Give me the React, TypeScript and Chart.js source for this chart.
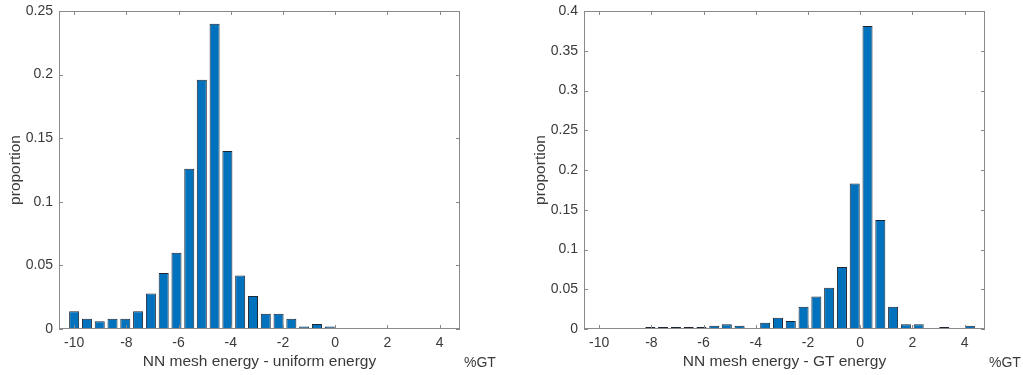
import React, { useEffect, useRef } from "react";
import { Chart, registerables } from "chart.js";

Chart.register(...registerables);

// Shared histogram bin centres (%GT)
const binCenters = [
  -10.0, -9.51, -9.02, -8.53, -8.04, -7.55, -7.06, -6.57, -6.08, -5.59,
  -5.11, -4.62, -4.13, -3.64, -3.15, -2.66, -2.17, -1.68, -1.19, -0.7,
  -0.21, 0.28, 0.77, 1.26, 1.75, 2.24, 2.73, 3.22, 3.71, 4.2,
];

// Left: NN mesh energy - uniform energy
const uniformProportion: (number | null)[] = [
  0.014, 0.008, 0.006, 0.008, 0.008, 0.014, 0.028, 0.044, 0.06, 0.126,
  0.196, 0.24, 0.14, 0.042, 0.026, 0.012, 0.012, 0.008, 0.002, 0.004,
  0.002, null, null, null, null, null, null, null, null, null,
];

// Right: NN mesh energy - GT energy
const gtProportion: (number | null)[] = [
  null, null, null, null, 0.002, 0.002, 0.002, 0.002, 0.002, 0.004,
  0.006, 0.004, null, 0.008, 0.014, 0.01, 0.028, 0.041, 0.052, 0.078,
  0.183, 0.381, 0.137, 0.028, 0.006, 0.006, null, 0.002, null, 0.004,
];

const xTicks = [-10, -8, -6, -4, -2, 0, 2, 4];
const xLimits = [-10.58, 4.78];
const leftYTicks = [0, 0.05, 0.1, 0.15, 0.2, 0.25];
const rightYTicks = [0, 0.05, 0.1, 0.15, 0.2, 0.25, 0.3, 0.35, 0.4];

const leftXTitle = "NN mesh energy - uniform energy";
const rightXTitle = "NN mesh energy - GT energy";
const yTitle = "proportion";
const unitLabel = "%GT";

const FONT = "'Liberation Sans', Arial, Helvetica, sans-serif";
const TEXT = "#3a3a3a";
const AXIS = "#8a8a8a";
const BAR = "#0072BD";

type PanelProps = {
  values: (number | null)[];
  yTicks: number[];
  xTitle: string;
  canvasLeft: number;
  canvasWidth: number;
  area: { left: number; right: number; top: number; bottom: number };
  yTitlePad: number;
};

const H = 375;

function Panel({ values, yTicks, xTitle, canvasLeft, canvasWidth, area, yTitlePad }: PanelProps) {
  const ref = useRef<HTMLCanvasElement | null>(null);
  useEffect(() => {
    if (!ref.current) return;
    const data = binCenters
      .map((x, i) => ({ x, y: values[i] }))
      .filter((p) => p.y !== null) as { x: number; y: number }[];

    const frame = {
      id: "matlabFrame",
      afterDraw(chart: any) {
        const { ctx, chartArea: ca, scales } = chart;
        ctx.save();
        ctx.strokeStyle = AXIS;
        ctx.lineWidth = 1;
        ctx.strokeRect(Math.round(ca.left) + 0.5, Math.round(ca.top) + 0.5,
          Math.round(ca.right - ca.left) - 1, Math.round(ca.bottom - ca.top) - 1);
        const tl = 4;
        ctx.beginPath();
        for (const v of xTicks) {
          const px = Math.round(scales.x.getPixelForValue(v)) + 0.5;
          ctx.moveTo(px, ca.bottom);
          ctx.lineTo(px, ca.bottom - tl);
          ctx.moveTo(px, ca.top);
          ctx.lineTo(px, ca.top + tl);
        }
        for (const v of yTicks) {
          const py = Math.round(scales.y.getPixelForValue(v)) + 0.5;
          ctx.moveTo(ca.left, py);
          ctx.lineTo(ca.left + tl, py);
          ctx.moveTo(ca.right, py);
          ctx.lineTo(ca.right - tl, py);
        }
        ctx.stroke();
        ctx.fillStyle = TEXT;
        ctx.font = `14px ${FONT}`;
        ctx.textBaseline = "alphabetic";
        ctx.textAlign = "left";
        ctx.fillText(unitLabel, ca.right + 4, 367);
        ctx.restore();
      },
    };

    const chart = new Chart(ref.current, {
      type: "bar",
      data: {
        datasets: [
          {
            data,
            backgroundColor: BAR,
            borderColor: "#1c2530",
            borderWidth: 1,
            borderSkipped: false,
            minBarLength: 2,
            categoryPercentage: 1,
            barPercentage: 0.8,
          },
        ],
      },
      options: {
        animation: false,
        responsive: false,
        maintainAspectRatio: false,
        devicePixelRatio: 1,
        layout: {
          padding: { left: 0, top: area.top, right: canvasWidth - area.right, bottom: 0 },
        },
        plugins: { legend: { display: false }, tooltip: { enabled: false } },
        scales: {
          x: {
            type: "linear",
            offset: false,
            min: xLimits[0],
            max: xLimits[1],
            grid: { display: false, drawTicks: false },
            border: { display: false },
            afterBuildTicks: (s: any) => {
              s.ticks = xTicks.map((v) => ({ value: v }));
            },
            afterFit: (s: any) => {
              s.height = H - area.bottom;
              s.paddingLeft = 0;
              s.paddingRight = 0;
            },
            ticks: {
              padding: 6,
              color: TEXT,
              font: { family: FONT, size: 14 },
              callback: (v: any) => String(v),
              maxRotation: 0,
              autoSkip: false,
            },
            title: {
              display: true,
              text: xTitle,
              color: TEXT,
              font: { family: FONT, size: 15.5 },
              padding: { top: 0, bottom: 4 },
            },
          },
          y: {
            type: "linear",
            min: yTicks[0],
            max: yTicks[yTicks.length - 1],
            grid: { display: false, drawTicks: false },
            border: { display: false },
            afterBuildTicks: (s: any) => {
              s.ticks = yTicks.map((v) => ({ value: v }));
            },
            afterFit: (s: any) => {
              s.width = area.left;
              s.paddingTop = 0;
              s.paddingBottom = 0;
            },
            ticks: {
              padding: 6,
              color: TEXT,
              font: { family: FONT, size: 14 },
              callback: (v: any) => String(Math.round(Number(v) * 1000) / 1000),
              autoSkip: false,
            },
            title: {
              display: true,
              text: yTitle,
              color: TEXT,
              font: { family: FONT, size: 15.5 },
              padding: { top: yTitlePad, bottom: 0 },
            },
          },
        },
      },
      plugins: [frame],
    });
    return () => chart.destroy();
  }, []);

  return (
    <canvas
      ref={ref}
      width={canvasWidth}
      height={H}
      style={{ position: "absolute", left: canvasLeft, top: 0, width: canvasWidth, height: H }}
    />
  );
}

export default function App() {
  useEffect(() => {
    document.body.style.margin = "0";
    document.body.style.background = "#ffffff";
  }, []);
  return (
    <div style={{ position: "relative", width: 1023, height: H, background: "#fff", overflow: "hidden" }}>
      <Panel
        values={uniformProportion}
        yTicks={leftYTicks}
        xTitle={leftXTitle}
        canvasLeft={0}
        canvasWidth={512}
        area={{ left: 59, right: 460, top: 11, bottom: 329 }}
        yTitlePad={6}
      />
      <Panel
        values={gtProportion}
        yTicks={rightYTicks}
        xTitle={rightXTitle}
        canvasLeft={512}
        canvasWidth={511}
        area={{ left: 72, right: 473, top: 11, bottom: 329 }}
        yTitlePad={19}
      />
    </div>
  );
}
